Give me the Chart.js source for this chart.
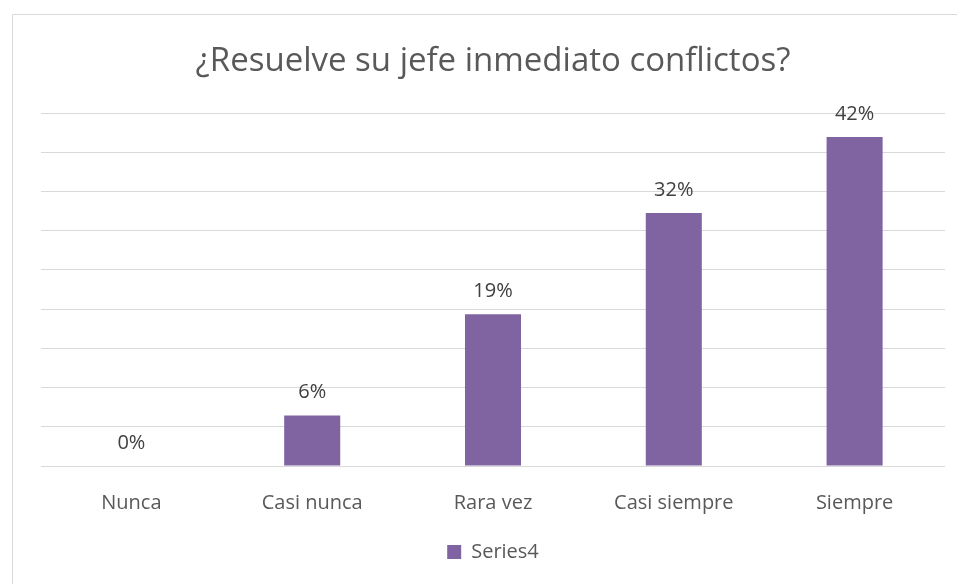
<!DOCTYPE html>
<html>
<head>
<meta charset="utf-8">
<script src="https://cdn.jsdelivr.net/npm/chart.js@4"></script>
<style>
  html, body { margin: 0; padding: 0; background: #ffffff; }
  #wrap { width: 957px; height: 584px; }
</style>
</head>
<body>
<div id="wrap"><canvas id="chart" width="957" height="584"></canvas></div>
<script>
  const categories = ["Nunca", "Casi nunca", "Rara vez", "Casi siempre", "Siempre"];
  // shares of 31 answers, labels shown rounded
  const values = [0, 6.45, 19.35, 32.26, 41.94];
  const valueLabels = ["0%", "6%", "19%", "32%", "42%"];
  const seriesName = "Series4";

  const FONT = "'Open Sans', sans-serif";

  // frame of the chart box (left and top edges visible in the picture)
  const frame = {
    id: "frame",
    beforeDraw(chart) {
      const c = chart.ctx;
      c.save();
      c.strokeStyle = "#d9d9d9";
      c.lineWidth = 1;
      c.beginPath();
      c.moveTo(12.5, 584);
      c.lineTo(12.5, 14.5);
      c.lineTo(957, 14.5);
      c.stroke();
      c.restore();
    },
  };

  // value labels above the bars
  const barLabels = {
    id: "barLabels",
    afterDatasetsDraw(chart) {
      const c = chart.ctx;
      const meta = chart.getDatasetMeta(0);
      c.save();
      c.fillStyle = "#404040";
      c.font = "20px " + FONT;
      c.textAlign = "center";
      c.textBaseline = "middle";
      meta.data.forEach((bar, i) => {
        c.fillText(valueLabels[i], bar.x, bar.y - 23);
      });
      c.restore();
    },
  };

  new Chart(document.getElementById("chart"), {
    type: "bar",
    data: {
      labels: categories,
      datasets: [
        {
          label: seriesName,
          data: values,
          backgroundColor: "#8064a2",
          categoryPercentage: 1,
          barPercentage: 0.31,
        },
      ],
    },
    options: {
      responsive: false,
      animation: false,
      layout: { padding: { left: 41, right: 12, top: 42, bottom: 12 } },
      scales: {
        x: {
          grid: { display: false, drawTicks: false },
          border: { display: false },
          ticks: { color: "#595959", font: { family: FONT, size: 20 }, padding: 25 },
          // tighten the space between the category labels and the legend
          afterFit(scale) {
            scale.height -= 8;
          },
        },
        y: {
          min: 0,
          max: 45,
          ticks: { display: false, stepSize: 5 },
          grid: { color: "#d9d9d9", lineWidth: 1, drawTicks: false },
          border: { display: false },
        },
      },
      plugins: {
        title: {
          display: true,
          text: "¿Resuelve su jefe inmediato conflictos?",
          color: "#595959",
          font: { family: FONT, size: 33, weight: "normal" },
          padding: { top: 0, bottom: 31.4 },
        },
        legend: {
          position: "bottom",
          labels: {
            color: "#595959",
            font: { family: FONT, size: 20 },
            boxWidth: 14,
            boxHeight: 14,
            padding: 10,
          },
        },
        tooltip: { enabled: false },
      },
    },
    plugins: [frame, barLabels],
  });
</script>
</body>
</html>
